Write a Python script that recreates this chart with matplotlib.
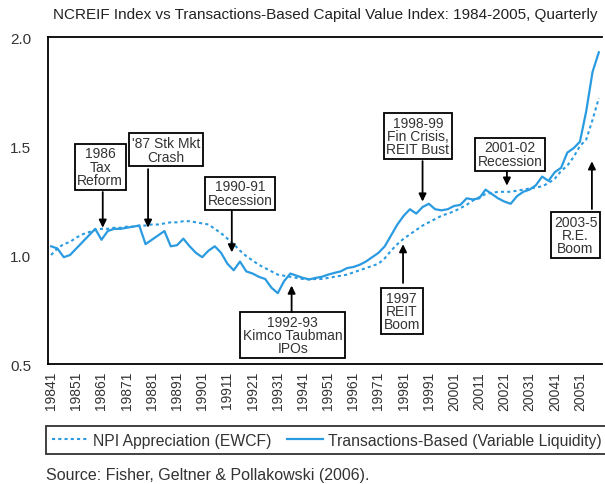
import numpy as np
import matplotlib
matplotlib.use("Agg")
import matplotlib.pyplot as plt

plt.rcParams['font.family'] = ['Liberation Sans', 'DejaVu Sans']

# quarterly data 1984Q1 - 2005Q4
years = list(range(1984, 2006))
quarters = [str(y) + str(q) for y in years for q in range(1, 5)]

# NPI appreciation (EWCF), dotted line
npi = [1.00, 1.03, 1.05, 1.06,
       1.08, 1.095, 1.105, 1.115,
       1.12, 1.12, 1.125, 1.125,
       1.13, 1.13, 1.135, 1.135,
       1.14, 1.14, 1.145, 1.15,
       1.15, 1.155, 1.155, 1.15,
       1.145, 1.14, 1.12, 1.10,
       1.075, 1.05, 1.02, 0.995,
       0.975, 0.955, 0.94, 0.925,
       0.91, 0.905, 0.90, 0.895,
       0.89, 0.888, 0.89, 0.89,
       0.895, 0.90, 0.905, 0.91,
       0.92, 0.93, 0.94, 0.95,
       0.96, 0.985, 1.02, 1.05,
       1.075, 1.095, 1.115, 1.135,
       1.15, 1.165, 1.18, 1.19,
       1.20, 1.215, 1.23, 1.25,
       1.265, 1.28, 1.285, 1.29,
       1.29, 1.29, 1.295, 1.30,
       1.305, 1.31, 1.315, 1.33,
       1.35, 1.385, 1.41, 1.45,
       1.50, 1.53, 1.62, 1.72]

# transactions-based index (variable liquidity), solid line
tbi = [1.04, 1.03, 0.99, 1.00,
       1.03, 1.06, 1.09, 1.12,
       1.07, 1.11, 1.12, 1.12,
       1.125, 1.13, 1.135, 1.05,
       1.07, 1.09, 1.11, 1.04,
       1.045, 1.075, 1.04, 1.01,
       0.99, 1.02, 1.04, 1.01,
       0.96, 0.93, 0.97, 0.925,
       0.915, 0.90, 0.89, 0.85,
       0.825, 0.88, 0.915, 0.905,
       0.895, 0.888, 0.895, 0.90,
       0.91, 0.918, 0.925, 0.94,
       0.945, 0.955, 0.97, 0.99,
       1.01, 1.04, 1.09, 1.14,
       1.18, 1.21, 1.19, 1.22,
       1.235, 1.21, 1.205, 1.21,
       1.225, 1.23, 1.26, 1.255,
       1.26, 1.30, 1.28, 1.26,
       1.245, 1.235, 1.27, 1.29,
       1.30, 1.32, 1.36, 1.34,
       1.38, 1.40, 1.47, 1.49,
       1.52, 1.66, 1.84, 1.93]

# annotation text, box centre (quarter, value), arrow (quarter, start, tip)
notes = [
    ("1986\nTax\nReform", (7.8, 1.404), (8.2, 1.289, 1.125)),
    ("'87 Stk Mkt\nCrash", (18.25, 1.482), (15.4, 1.394, 1.125)),
    ("1990-91\nRecession", (30.0, 1.284), (28.7, 1.202, 1.012)),
    ("1992-93\nKimco Taubman\nIPOs", (38.4, 0.633), (38.2, 0.739, 0.86)),
    ("1998-99\nFin Crisis,\nREIT Bust", (58.25, 1.546), (59.0, 1.431, 1.245)),
    ("1997\nREIT\nBoom", (55.7, 0.743), (55.9, 0.872, 1.05)),
    ("2001-02\nRecession", (72.9, 1.463), (72.4, 1.385, 1.318)),
    ("2003-5\nR.E.\nBoom", (83.3, 1.092), (85.9, 1.211, 1.43)),
]

blue = '#2a9be0'
x = np.arange(len(quarters))

fig = plt.figure(figsize=(6.05, 4.85), dpi=100)
ax = fig.add_axes([0.0793, 0.2474, 0.9157, 0.6742])

l1, = ax.plot(x, npi, color=blue, lw=1.5, ls=(0, (1.5, 1.5)))
l2, = ax.plot(x, tbi, color=blue, lw=1.6)

ax.set_xlim(-0.5, 87.5)
ax.set_ylim(0.5, 2.0)
ax.set_yticks([0.5, 1.0, 1.5, 2.0])
ax.set_yticklabels(['0.5', '1.0', '1.5', '2.0'], fontsize=11, color='#333333')
ax.set_xticks(x[::4])
ax.set_xticklabels(quarters[::4], rotation=90, fontsize=10, color='#333333')
ax.tick_params(length=0)
ax.tick_params(axis='x', pad=5)
ax.tick_params(axis='y', pad=12)
ax.spines['right'].set_visible(False)
for s in ['left', 'top', 'bottom']:
    ax.spines[s].set_linewidth(1.3)

for txt, (bx, by), (axx, y0, y1) in notes:
    ax.text(bx, by, txt, ha='center', va='center', fontsize=10, color='#333333',
            linespacing=0.95,
            bbox=dict(boxstyle='square,pad=0.2', fc='white', ec='black', lw=1.3))
    ax.annotate('', xy=(axx, y1), xytext=(axx, y0),
                arrowprops=dict(arrowstyle='-|>,head_length=0.45,head_width=0.22',
                                color='black', lw=1.3, shrinkA=0, shrinkB=0))

fig.text(0.537, 0.969, "NCREIF Index vs Transactions-Based Capital Value Index: 1984-2005, Quarterly",
         ha='center', va='center', fontsize=11, color='#222222')

leg = fig.legend([l1, l2], ["NPI Appreciation (EWCF)", "Transactions-Based (Variable Liquidity)"],
                 loc='lower left', bbox_to_anchor=(0.076, 0.062),
                 ncol=2, fontsize=11.3, frameon=True, fancybox=False,
                 handlelength=2.3, handletextpad=0.3, columnspacing=1.0,
                 borderpad=0.4, borderaxespad=0)
leg.get_frame().set_edgecolor('black')
leg.get_frame().set_linewidth(1.3)
for t in leg.get_texts():
    t.set_color('#333333')

fig.text(0.076, 0.02, "Source: Fisher, Geltner & Pollakowski (2006).", fontsize=11.5, color='#333333',
         va='center')

plt.savefig('out.png', dpi=100)
